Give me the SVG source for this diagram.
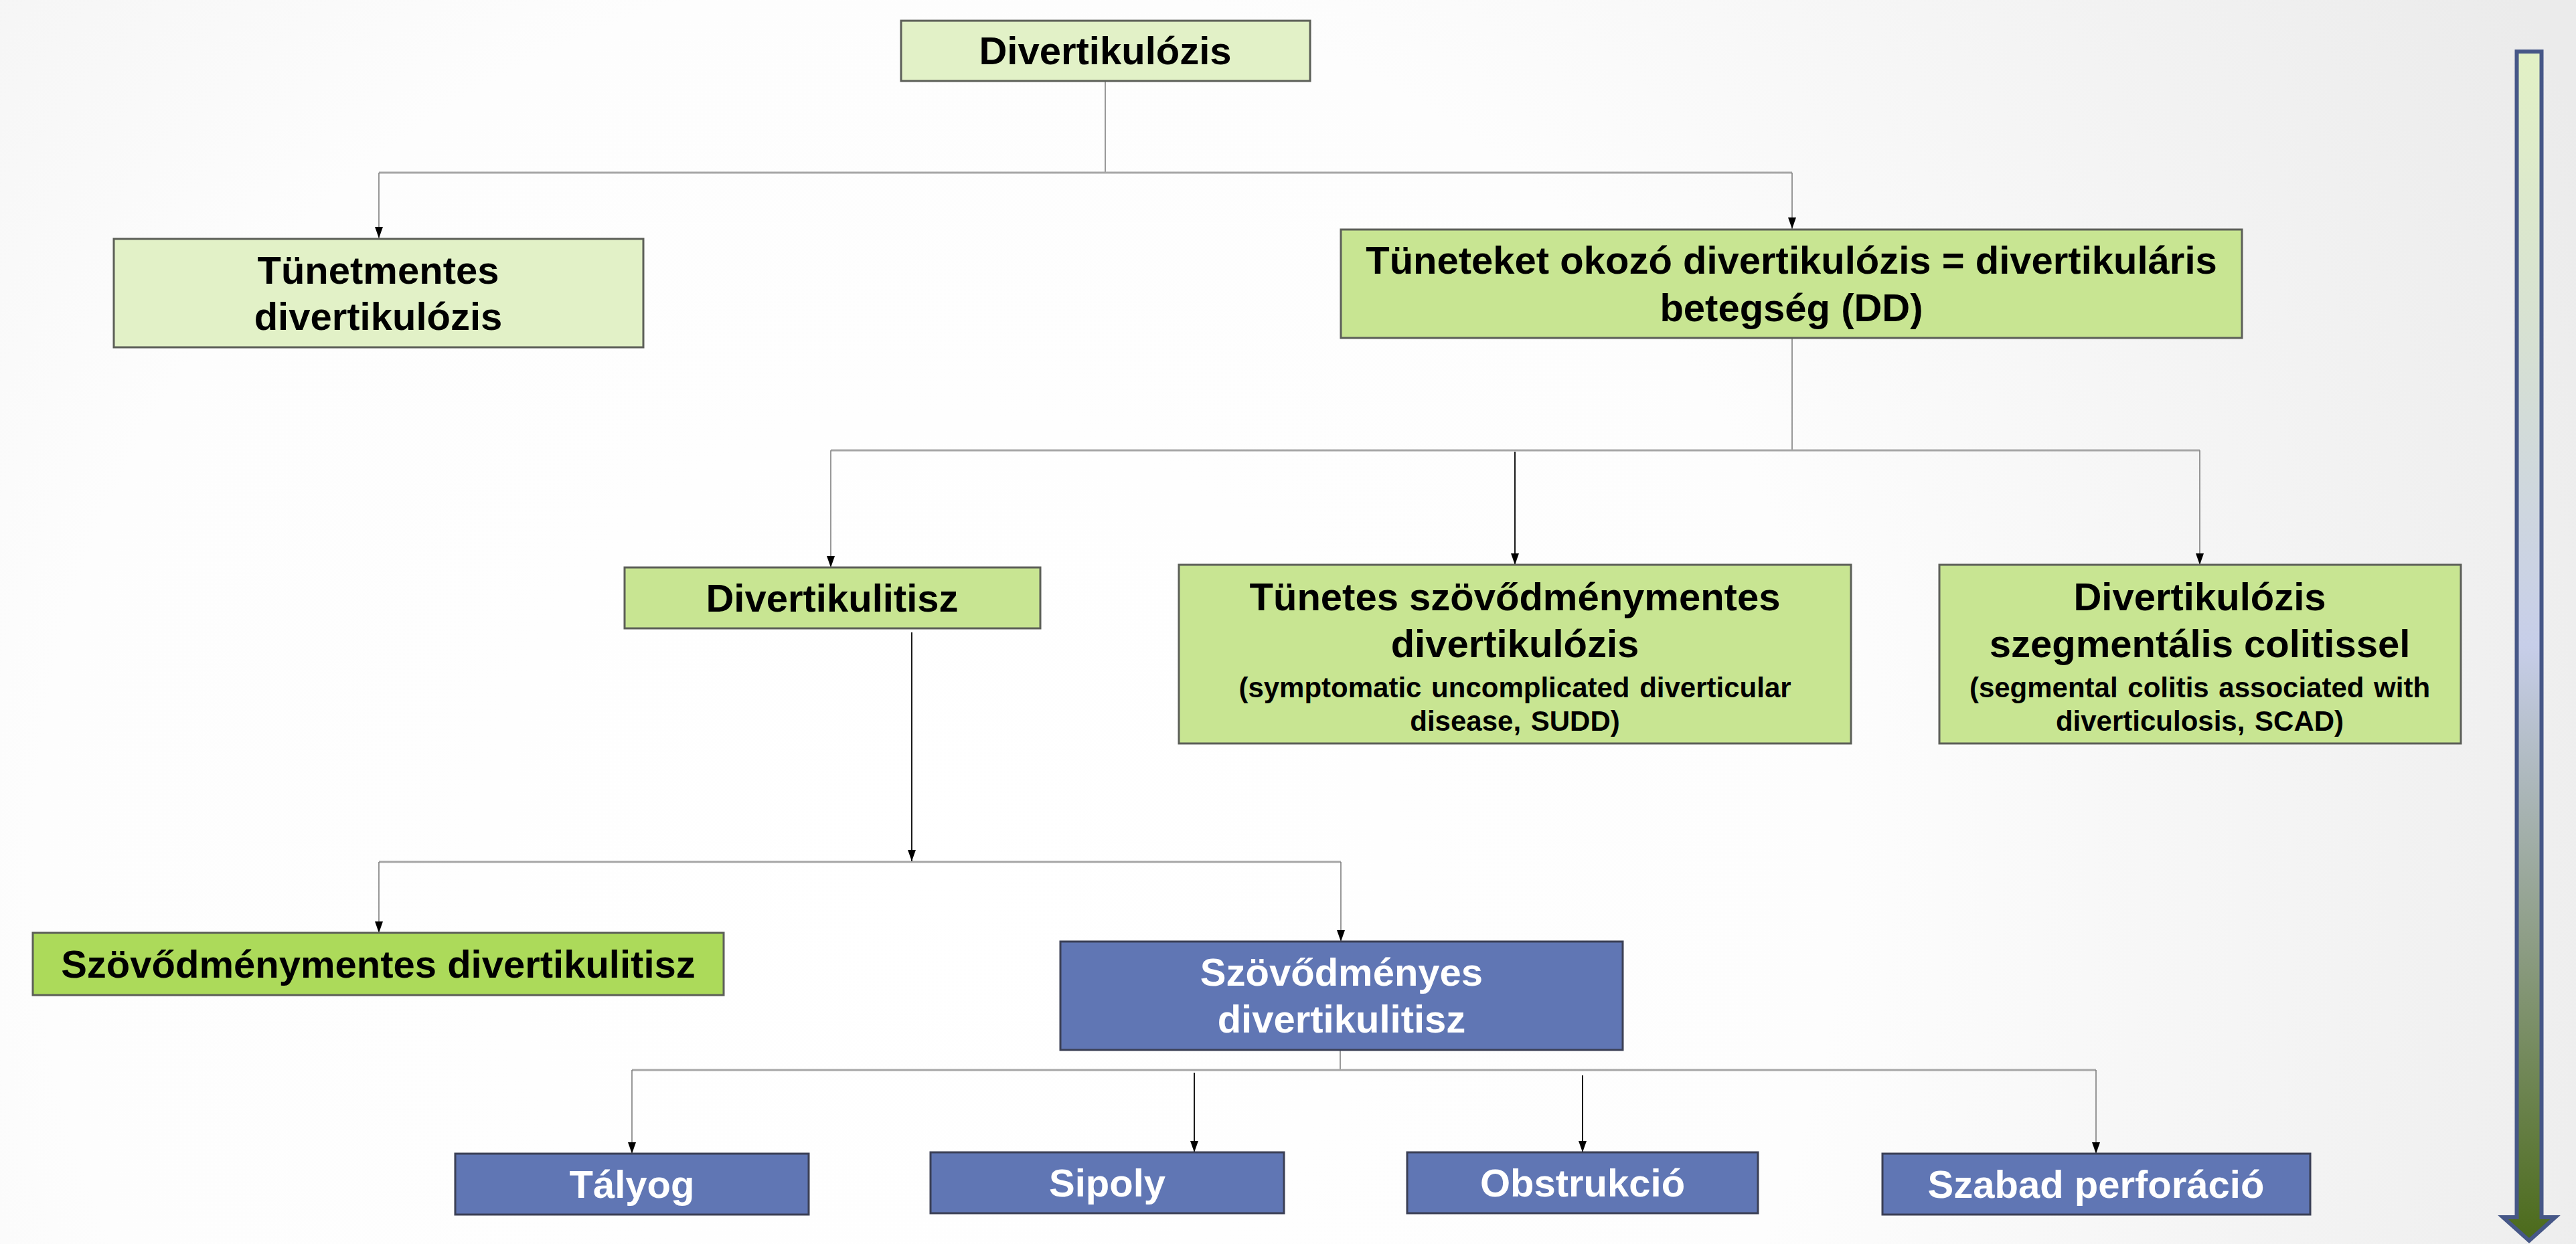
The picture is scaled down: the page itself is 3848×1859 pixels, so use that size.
<svg xmlns="http://www.w3.org/2000/svg" width="3848" height="1859" viewBox="0 0 3848 1859">
<style>
.box{stroke:#5c5f58;stroke-width:3}
.bl{stroke:#3a3f55;stroke-width:3}
.t{font-family:"Liberation Sans",Arial,sans-serif;font-weight:bold;font-size:58px;text-anchor:middle;fill:#000}
.s{font-size:42px;word-spacing:3px}
.w{fill:#fff}
.h{stroke:#a6a6a6;stroke-width:3;fill:none}
.v{stroke:#7f7f7f;stroke-width:1.6;fill:none}
.k{stroke:#000;stroke-width:1.8;fill:none}
.a{marker-end:url(#arr)}
</style>
<defs>
<radialGradient id="bg" gradientUnits="userSpaceOnUse" cx="1400" cy="1300" r="2700">
<stop offset="0" stop-color="#ffffff"/>
<stop offset="0.5" stop-color="#fdfdfd"/>
<stop offset="1" stop-color="#ebebeb"/>
</radialGradient>
<linearGradient id="ag" gradientUnits="userSpaceOnUse" x1="0" y1="77" x2="0" y2="1855">
<stop offset="0" stop-color="#e2f1c5"/>
<stop offset="0.25" stop-color="#d6e0d3"/>
<stop offset="0.5" stop-color="#c7cee9"/>
<stop offset="0.75" stop-color="#8d9d85"/>
<stop offset="1" stop-color="#4b6a1a"/>
</linearGradient>
<marker id="arr" viewBox="0 0 17 12" refX="17" refY="6" markerWidth="17" markerHeight="12" orient="auto" markerUnits="userSpaceOnUse">
<path d="M0,0 L17,6 L0,12 z" fill="#000"/>
</marker>
</defs>
<rect x="0" y="0" width="3848" height="1859" fill="url(#bg)"/>

<g id="side-arrow">
<path d="M3759.5,77 L3796.5,77 L3796.5,1819 L3817,1819 L3778,1854 L3739,1819 L3759.5,1819 Z" fill="url(#ag)" stroke="#465787" stroke-width="6" stroke-linejoin="miter"/>
</g>

<g id="connectors">
<line class="v" x1="1651" y1="121" x2="1651" y2="258"/>
<line class="h" x1="566" y1="258" x2="2677" y2="258"/>
<line class="v a" x1="566" y1="258" x2="566" y2="356"/>
<line class="v a" x1="2677" y1="258" x2="2677" y2="342"/>

<line class="v" x1="2677" y1="505" x2="2677" y2="673"/>
<line class="h" x1="1241" y1="673" x2="3286" y2="673"/>
<line class="v a" x1="1241" y1="673" x2="1241" y2="848"/>
<line class="k a" x1="2263" y1="675" x2="2263" y2="844"/>
<line class="v a" x1="3286" y1="673" x2="3286" y2="844"/>

<line class="h" x1="566" y1="1288" x2="2003" y2="1288"/>
<line class="k a" x1="1362" y1="945" x2="1362" y2="1287"/>
<line class="v a" x1="566" y1="1288" x2="566" y2="1394"/>
<line class="v a" x1="2003" y1="1288" x2="2003" y2="1407"/>

<line class="v" x1="2002" y1="1569" x2="2002" y2="1600"/>
<line class="h" x1="944" y1="1599" x2="3131" y2="1599"/>
<line class="v a" x1="944" y1="1599" x2="944" y2="1724"/>
<line class="k a" x1="1784" y1="1603" x2="1784" y2="1722"/>
<line class="k a" x1="2364" y1="1607" x2="2364" y2="1722"/>
<line class="v a" x1="3131" y1="1599" x2="3131" y2="1724"/>
</g>

<g id="n-divertikulozis">
<rect class="box" x="1346" y="31" width="611" height="90" fill="#e2f1c7"/>
<text class="t" x="1651" y="96">Divertikulózis</text>
</g>

<g id="n-tunetmentes">
<rect class="box" x="170" y="357" width="791" height="162" fill="#e2f1c7"/>
<text class="t" x="565" y="424">Tünetmentes</text>
<text class="t" x="565" y="493">divertikulózis</text>
</g>

<g id="n-tuneteket">
<rect class="box" x="2003" y="343" width="1346" height="162" fill="#c8e592"/>
<text class="t" x="2676" y="409">Tüneteket okozó divertikulózis = divertikuláris</text>
<text class="t" x="2676" y="480">betegség (DD)</text>
</g>

<g id="n-divertikulitisz">
<rect class="box" x="933" y="848" width="621" height="91" fill="#c8e592"/>
<text class="t" x="1243" y="914">Divertikulitisz</text>
</g>

<g id="n-sudd">
<rect class="box" x="1761" y="844" width="1004" height="267" fill="#c8e592"/>
<text class="t" x="2263" y="912">Tünetes szövődménymentes</text>
<text class="t" x="2263" y="982">divertikulózis</text>
<text class="t s" x="2263" y="1042">(symptomatic uncomplicated diverticular</text>
<text class="t s" x="2263" y="1092">disease, SUDD)</text>
</g>

<g id="n-scad">
<rect class="box" x="2897" y="844" width="779" height="267" fill="#c8e592"/>
<text class="t" x="3286" y="912">Divertikulózis</text>
<text class="t" x="3286" y="982">szegmentális colitissel</text>
<text class="t s" x="3286" y="1042">(segmental colitis associated with</text>
<text class="t s" x="3286" y="1092">diverticulosis, SCAD)</text>
</g>

<g id="n-szovodmenymentes">
<rect class="box" x="49" y="1394" width="1032" height="93" fill="#acda5a"/>
<text class="t" x="565" y="1461">Szövődménymentes divertikulitisz</text>
</g>

<g id="n-szovodmenyes">
<rect class="bl" x="1584" y="1407" width="840" height="162" fill="#6076b4"/>
<text class="t w" x="2004" y="1473">Szövődményes</text>
<text class="t w" x="2004" y="1543">divertikulitisz</text>
</g>

<g id="n-talyog">
<rect class="bl" x="680" y="1724" width="528" height="91" fill="#6076b4"/>
<text class="t w" x="944" y="1790">Tályog</text>
</g>

<g id="n-sipoly">
<rect class="bl" x="1390" y="1722" width="528" height="91" fill="#6076b4"/>
<text class="t w" x="1654" y="1788">Sipoly</text>
</g>

<g id="n-obstrukcio">
<rect class="bl" x="2102" y="1722" width="524" height="91" fill="#6076b4"/>
<text class="t w" x="2364" y="1788">Obstrukció</text>
</g>

<g id="n-szabad">
<rect class="bl" x="2812" y="1724" width="639" height="91" fill="#6076b4"/>
<text class="t w" x="3131" y="1790">Szabad perforáció</text>
</g>
</svg>
